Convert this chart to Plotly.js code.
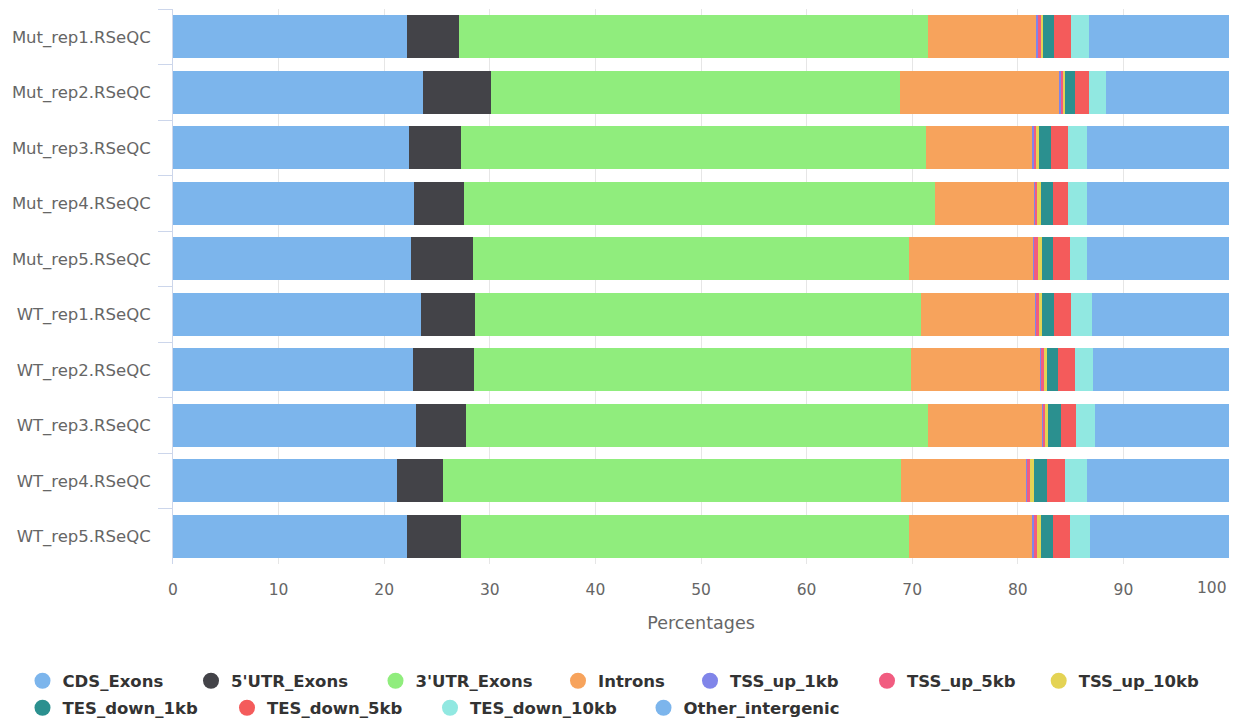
<!DOCTYPE html>
<html>
<head>
<meta charset="utf-8">
<script src="https://cdn.plot.ly/plotly-3.0.1.min.js"></script>
<style>
  html, body { margin: 0; padding: 0; background: #ffffff; }
  #chart { width: 1239px; height: 723px; }
</style>
</head>
<body>
<div id="chart"></div>
<script>
// Samples (one horizontal bar each, top to bottom)
const categories = [
  'Mut_rep1.RSeQC', 'Mut_rep2.RSeQC', 'Mut_rep3.RSeQC', 'Mut_rep4.RSeQC', 'Mut_rep5.RSeQC',
  'WT_rep1.RSeQC', 'WT_rep2.RSeQC', 'WT_rep3.RSeQC', 'WT_rep4.RSeQC', 'WT_rep5.RSeQC'
];

// Percentage of reads per genomic feature
const cdsExons        = [22.18, 23.70, 22.34, 22.80, 22.50, 23.50, 22.70, 23.00, 21.17, 22.20];
const utr5Exons       = [4.93, 6.40, 4.90, 4.75, 5.90, 5.10, 5.80, 4.70, 4.43, 5.04];
const utr3Exons       = [44.36, 38.70, 44.08, 44.65, 41.33, 42.27, 41.36, 43.77, 43.38, 42.49];
const introns         = [10.33, 15.10, 10.04, 9.29, 11.79, 10.81, 12.26, 10.81, 11.82, 11.63];
const tssUp1kb        = [0.15, 0.20, 0.20, 0.20, 0.05, 0.05, 0.05, 0.20, 0.05, 0.20];
const tssUp5kb        = [0.20, 0.15, 0.15, 0.17, 0.30, 0.28, 0.30, 0.10, 0.28, 0.25];
const tssUp10kb       = [0.25, 0.24, 0.25, 0.29, 0.41, 0.27, 0.25, 0.30, 0.42, 0.34];
const tesDown1kb      = [1.05, 0.88, 1.20, 1.14, 1.01, 1.17, 1.04, 1.17, 1.17, 1.14];
const tesDown5kb      = [1.61, 1.33, 1.61, 1.48, 1.64, 1.61, 1.61, 1.45, 1.77, 1.64];
const tesDown10kb     = [1.64, 1.61, 1.77, 1.77, 1.61, 1.92, 1.78, 1.80, 2.05, 1.90];
const otherIntergenic = [13.30, 11.69, 13.46, 13.46, 13.46, 13.02, 12.85, 12.70, 13.46, 13.17];

const seriesNames = [
  'CDS_Exons', "5'UTR_Exons", "3'UTR_Exons", 'Introns', 'TSS_up_1kb', 'TSS_up_5kb',
  'TSS_up_10kb', 'TES_down_1kb', 'TES_down_5kb', 'TES_down_10kb', 'Other_intergenic'
];
const seriesValues = [
  cdsExons, utr5Exons, utr3Exons, introns, tssUp1kb, tssUp5kb,
  tssUp10kb, tesDown1kb, tesDown5kb, tesDown10kb, otherIntergenic
];

// Percentage axis ticks
const xTickValues = [0, 10, 20, 30, 40, 50, 60, 70, 80, 90, 100];
const X_MAX = 100;

// Styling
const W = 1239, H = 723;
const seriesColors = [
  '#7cb5ec', '#434348', '#90ed7d', '#f7a35c', '#8085e9', '#f15c80',
  '#e4d354', '#2b908f', '#f45b5b', '#91e8e1', '#7cb5ec'
];
// Legend marker centres in page pixels [x, y]
const legendSpots = [
  [42.5, 681], [211, 681], [395.5, 681], [578, 681], [710, 681], [887, 681], [1058.7, 681],
  [42.5, 708], [247, 708], [450, 708], [663.5, 708]
];
const LEGEND_SYMBOL_OFFSET = 20;
const tickFont = { family: 'DejaVu Sans, sans-serif', size: 15.5, color: '#666666' };

const legendKey = i => (i === 0 ? 'legend' : 'legend' + (i + 1));

const traces = [];
seriesNames.forEach((name, i) => {
  traces.push({
    type: 'bar',
    orientation: 'h',
    name: name,
    x: seriesValues[i],
    y: categories,
    marker: { color: seriesColors[i] },
    legendgroup: name,
    showlegend: false,
    hovertemplate: '%{y}<br>' + name + ': %{x:.2f}%<extra></extra>'
  });
});
seriesNames.forEach((name, i) => {
  traces.push({
    type: 'scatter',
    mode: 'markers',
    name: name,
    x: [null],
    y: [null],
    marker: { color: seriesColors[i], size: 18, symbol: 'circle' },
    legendgroup: name,
    legend: legendKey(i),
    showlegend: true,
    hoverinfo: 'skip'
  });
});

const layout = {
  width: W,
  height: H,
  paper_bgcolor: '#ffffff',
  plot_bgcolor: '#ffffff',
  margin: { l: 173, r: 10, t: 9, b: 159, pad: 0 },
  barmode: 'stack',
  bargap: 0.225,
  font: { family: 'DejaVu Sans, sans-serif', color: '#666666' },
  xaxis: {
    range: [0, X_MAX],
    tickmode: 'array',
    tickvals: xTickValues,
    // the last label sits flush against the right edge (annotation below)
    ticktext: xTickValues.map(v => (v === X_MAX ? '' : String(v))),
    showgrid: true,
    gridcolor: '#e6e6e6',
    gridwidth: 1,
    zeroline: false,
    showline: false,
    ticks: '',
    ticklabelstandoff: 14,
    tickfont: tickFont,
    title: { text: 'Percentages', font: { size: 17.5, color: '#666666' }, standoff: 19 },
    fixedrange: true
  },
  yaxis: {
    type: 'category',
    categoryorder: 'array',
    categoryarray: categories,
    autorange: 'reversed',
    showgrid: false,
    zeroline: false,
    showline: true,
    linecolor: '#ccd6eb',
    linewidth: 1,
    ticks: 'outside',
    tickson: 'boundaries',
    ticklen: 14,
    tickcolor: '#ccd6eb',
    tickwidth: 1,
    ticklabelstandoff: 18,
    tickfont: { size: 16.5, color: '#666666' },
    fixedrange: true
  },
  annotations: [{
    x: X_MAX,
    xref: 'x',
    y: 0,
    yref: 'paper',
    yanchor: 'middle',
    yshift: -24,
    xanchor: 'right',
    showarrow: false,
    text: String(X_MAX),
    font: tickFont
  }],
  hovermode: 'closest'
};

legendSpots.forEach((spot, i) => {
  layout[legendKey(i)] = {
    xref: 'container',
    yref: 'container',
    x: (spot[0] - LEGEND_SYMBOL_OFFSET) / W,
    y: 1 - spot[1] / H,
    xanchor: 'left',
    yanchor: 'middle',
    orientation: 'h',
    bgcolor: 'rgba(0,0,0,0)',
    borderwidth: 0,
    itemwidth: 30,
    itemclick: false,
    itemdoubleclick: false,
    font: { family: 'DejaVu Sans, sans-serif', size: 16.5, color: '#333333', weight: 'bold' }
  };
});

Plotly.newPlot('chart', traces, layout, { displayModeBar: false });
</script>
</body>
</html>
